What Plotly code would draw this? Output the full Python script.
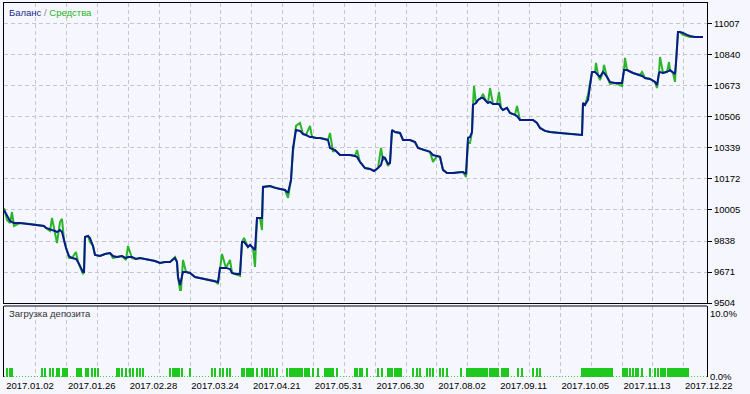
import plotly.graph_objects as go

# ---------------- data ----------------
deal = [0, 3, 6, 8, 10, 16, 26, 36, 40, 42, 46, 48, 51, 53, 56, 58, 60, 62, 65, 68,
        72, 74, 77, 79, 80, 81, 84, 86, 89, 91, 96, 101, 106, 109, 113, 118, 122, 124, 128, 132,
        136, 141, 146, 151, 156, 161, 166, 171, 173, 174, 176, 177, 179, 182, 186, 191, 196, 201, 206, 211,
        214, 216, 218, 222, 226, 228, 232, 236, 238, 240, 244, 246, 249, 251, 253, 256, 258, 259, 266, 271,
        276, 281, 284, 287, 289, 292, 296, 299, 302, 306, 308, 312, 316, 321, 324, 326, 329, 331, 336, 341,
        346, 351, 353, 356, 361, 366, 370, 374, 377, 379, 381, 384, 386, 388, 391, 396, 399, 406, 411, 414,
        421, 426, 429, 433, 436, 439, 443, 449, 456, 459, 462, 464, 466, 468, 469, 470, 472, 474, 477, 479,
        482, 484, 486, 489, 493, 495, 497, 499, 503, 506, 511, 513, 516, 523, 529, 533, 536, 541, 546, 556,
        566, 576, 578, 579, 581, 584, 586, 588, 591, 592, 594, 596, 599, 600, 603, 606, 611, 618, 620, 621,
        623, 629, 636, 638, 641, 646, 651, 653, 655, 656, 659, 663, 665, 666, 669, 671, 672, 673, 674, 676,
        679, 683, 686, 691, 696, 699]
balance = [10005, 9973, 9946, 9940, 9935, 9935, 9930, 9924, 9919, 9908, 9903, 9897, 9892, 9886, 9897, 9886, 9843, 9800, 9757, 9746,
           9741, 9725, 9693, 9671, 9671, 9860, 9865, 9854, 9811, 9763, 9757, 9768, 9773, 9757, 9752, 9757, 9746, 9752, 9752, 9741,
           9746, 9741, 9736, 9730, 9720, 9725, 9725, 9746, 9725, 9644, 9601, 9628, 9671, 9671, 9666, 9644, 9639, 9633, 9628, 9623,
           9617, 9693, 9693, 9693, 9687, 9666, 9660, 9660, 9833, 9833, 9806, 9817, 9800, 9790, 9962, 9962, 9962, 10129, 10134, 10124,
           10118, 10113, 10097, 10167, 10339, 10436, 10431, 10414, 10409, 10398, 10398, 10393, 10393, 10388, 10382, 10339, 10334, 10328, 10301, 10301,
           10301, 10296, 10291, 10264, 10231, 10226, 10215, 10231, 10247, 10291, 10285, 10253, 10258, 10436, 10425, 10420, 10382, 10382, 10371, 10339,
           10328, 10318, 10301, 10296, 10291, 10221, 10204, 10204, 10210, 10210, 10199, 10393, 10398, 10425, 10571, 10576, 10581, 10598, 10608, 10608,
           10592, 10581, 10587, 10576, 10576, 10576, 10555, 10544, 10555, 10528, 10517, 10511, 10490, 10490, 10490, 10474, 10447, 10431, 10425, 10420,
           10414, 10409, 10409, 10581, 10571, 10598, 10678, 10748, 10748, 10743, 10732, 10722, 10748, 10743, 10722, 10695, 10689, 10689, 10759, 10759,
           10759, 10743, 10732, 10727, 10716, 10711, 10695, 10678, 10743, 10748, 10743, 10748, 10754, 10759, 10743, 10738, 10797, 10867, 10964, 10964,
           10959, 10948, 10942, 10937, 10937, 10937]
equity = [10016, 9951, 9935, 9994, 9919, 9935, 9930, 9924, 9919, 9908, 9892, 9962, 9881, 9827, 9940, 9957, 9843, 9800, 9746, 9746,
          9779, 9725, 9682, 9660, 9671, 9860, 9865, 9833, 9811, 9763, 9757, 9768, 9773, 9746, 9752, 9757, 9736, 9811, 9746, 9741,
          9746, 9741, 9736, 9730, 9720, 9725, 9725, 9752, 9725, 9644, 9574, 9574, 9736, 9671, 9666, 9644, 9639, 9633, 9628, 9623,
          9606, 9693, 9768, 9693, 9736, 9666, 9660, 9650, 9833, 9854, 9806, 9817, 9800, 9698, 9962, 9962, 9897, 10129, 10134, 10124,
          10118, 10113, 10070, 10167, 10318, 10458, 10474, 10414, 10409, 10458, 10398, 10393, 10393, 10388, 10382, 10420, 10318, 10328, 10301, 10301,
          10301, 10296, 10328, 10264, 10231, 10226, 10215, 10231, 10339, 10274, 10285, 10242, 10258, 10436, 10425, 10420, 10382, 10382, 10371, 10339,
          10328, 10318, 10264, 10296, 10291, 10221, 10204, 10204, 10210, 10210, 10183, 10366, 10366, 10425, 10571, 10673, 10581, 10598, 10608, 10630,
          10592, 10581, 10662, 10576, 10576, 10641, 10555, 10544, 10555, 10528, 10517, 10565, 10490, 10490, 10490, 10474, 10447, 10431, 10425, 10420,
          10414, 10409, 10409, 10581, 10571, 10625, 10678, 10748, 10748, 10797, 10732, 10705, 10748, 10786, 10722, 10684, 10689, 10673, 10759, 10824,
          10759, 10743, 10732, 10748, 10716, 10711, 10695, 10662, 10743, 10829, 10743, 10748, 10802, 10759, 10743, 10695, 10797, 10867, 10964, 10964,
          10948, 10942, 10937, 10937, 10937, 10937]

load_deal = [3, 6, 8, 38, 41, 46, 49, 53, 55, 59, 61, 63, 73, 75, 77, 82, 84, 88, 91, 94,
             113, 115, 118, 122, 126, 129, 133, 136, 139, 166, 169, 171, 173, 175, 178, 186, 208, 211, 216, 219,
             223, 226, 238, 240, 243, 245, 247, 249, 253, 258, 261, 263, 266, 269, 273, 283, 286, 288, 290, 292,
             294, 296, 298, 301, 303, 305, 309, 314, 321, 323, 325, 327, 329, 333, 351, 353, 356, 358, 363, 374,
             378, 384, 386, 388, 391, 393, 395, 397, 409, 413, 416, 423, 426, 429, 436, 439, 443, 457, 463, 465,
             467, 469, 471, 473, 475, 477, 479, 481, 483, 486, 488, 490, 492, 494, 498, 500, 502, 504, 514, 518,
             529, 533, 536, 578, 580, 582, 584, 586, 588, 590, 592, 594, 596, 598, 600, 602, 604, 606, 608, 619,
             621, 623, 626, 629, 632, 634, 638, 646, 651, 654, 657, 659, 661, 664, 666, 668, 670, 672, 674, 676,
             678, 680, 682, 684]
load_pct = [1.4, 1.4, 1.4, 1.4, 1.4, 1.4, 1.4, 1.4, 1.4, 1.4, 1.4, 1.4, 1.4, 1.4, 1.4, 1.4, 1.4, 1.4, 1.4, 1.4,
            1.4, 1.4, 1.4, 1.4, 1.4, 1.4, 1.4, 1.4, 1.4, 1.4, 1.4, 1.4, 1.4, 1.4, 1.4, 1.4, 1.4, 1.4, 1.4, 1.4,
            1.4, 1.4, 1.4, 1.4, 1.4, 1.4, 1.4, 1.4, 1.4, 1.4, 1.4, 1.4, 1.4, 1.4, 1.4, 1.4, 1.4, 1.4, 1.4, 1.4,
            1.4, 1.4, 1.4, 1.4, 1.4, 1.4, 1.4, 1.4, 1.4, 1.4, 1.4, 1.4, 1.4, 1.4, 1.4, 1.4, 1.4, 1.4, 1.4, 1.4,
            1.4, 1.4, 1.4, 1.4, 1.4, 1.4, 1.4, 1.4, 1.4, 1.4, 1.4, 1.4, 1.4, 1.4, 1.4, 1.4, 1.4, 1.4, 1.4, 1.4,
            1.4, 1.4, 1.4, 1.4, 1.4, 1.4, 1.4, 1.4, 1.4, 1.4, 1.4, 1.4, 1.4, 1.4, 1.4, 1.4, 1.4, 1.4, 1.4, 1.4,
            1.4, 1.4, 1.4, 1.4, 1.4, 1.4, 1.4, 1.4, 1.4, 1.4, 1.4, 1.4, 1.4, 1.4, 1.4, 1.4, 1.4, 1.4, 1.4, 1.4,
            1.4, 1.4, 1.4, 1.4, 1.4, 1.4, 1.4, 1.4, 1.4, 1.4, 1.4, 1.4, 1.4, 1.4, 1.4, 1.4, 1.4, 1.4, 1.4, 1.4,
            1.4, 1.4, 1.4, 1.4]

y_ticks = [9504, 9671, 9838, 10005, 10172, 10339, 10506, 10673, 10840, 11007]
x_grid = [1, 31.85, 62.7, 93.55, 124.4, 155.25, 186.1, 216.95, 247.8, 278.65, 309.5, 340.35,
          371.2, 402.05, 432.9, 463.75, 494.6, 525.45, 556.3, 587.15, 618, 648.85, 679.7]
x_labels = ["2017.01.02", "", "2017.01.26", "", "2017.02.28", "", "2017.03.24", "", "2017.04.21", "",
            "2017.05.31", "", "2017.06.30", "", "2017.08.02", "", "2017.09.11", "", "2017.10.05", "",
            "2017.11.13", "", "2017.12.22"]

# ---------------- styles ----------------
BG = "#F6F6FE"
GRID = "#C6C6CE"
BLUE = "#0A1A8C"
GREEN = "#2AB52A"
BARGREEN = "#1EC81E"
FONT = "Liberation Sans"

fig = go.Figure()
fig.add_trace(go.Scatter(x=deal, y=equity, mode="lines", line=dict(color=GREEN, width=2),
                         xaxis="x", yaxis="y", showlegend=False, hoverinfo="skip"))
fig.add_trace(go.Scatter(x=deal, y=balance, mode="lines", line=dict(color=BLUE, width=2),
                         xaxis="x", yaxis="y", showlegend=False, hoverinfo="skip"))
fig.add_trace(go.Bar(x=load_deal, y=load_pct, width=1.8, marker=dict(color=BARGREEN, line=dict(width=0)),
                     xaxis="x2", yaxis="y2", showlegend=False, hoverinfo="skip"))

main_bottom = (377 - 303) / 374
low_top = (377 - 306) / 374

common_x = dict(range=[0, 703], tickmode="array", tickvals=x_grid, showgrid=True,
                gridcolor=GRID, griddash="4px,3px", gridwidth=1, zeroline=False, automargin=False)

fig.update_layout(
    width=750, height=394,
    margin=dict(l=4, r=43, t=3, b=17),
    paper_bgcolor=BG, plot_bgcolor=BG,
    font=dict(family=FONT, size=9, color="#000000"),
    bargap=0,
    xaxis=dict(**common_x, anchor="y", domain=[0, 1], showticklabels=False, ticks="",
               showline=True, linecolor="#000000", linewidth=1, mirror=True),
    yaxis=dict(domain=[main_bottom, 1], range=[9504, 11120], side="right", anchor="x",
               tickmode="array", tickvals=y_ticks, ticktext=[str(v) for v in y_ticks],
               ticks="outside", ticklen=4, tickcolor="#000000", tickwidth=1,
               showgrid=True, gridcolor=GRID, griddash="4px,3px", gridwidth=1, zeroline=False,
               showline=True, linecolor="#000000", linewidth=1, mirror=True, automargin=False,
               tickfont=dict(family=FONT, size=9.5, color="#000000")),
    xaxis2=dict(**common_x, anchor="y2", domain=[0, 1], ticktext=x_labels, showticklabels=True,
                ticks="", showline=False, ticklabelshift=25, ticklabelstandoff=1,
                tickfont=dict(family=FONT, size=9.5, color="#000000")),
    yaxis2=dict(domain=[0, low_top], range=[0, 11.2], side="right", anchor="x2",
                tickmode="array", tickvals=[0, 10], ticktext=["0.0%", "10.0%"], ticks="",
                showgrid=False, zeroline=False, showline=True, linecolor="#000000", linewidth=1,
                mirror=True, automargin=False,
                tickfont=dict(family=FONT, size=9.5, color="#000000")),
    shapes=[
        dict(type="line", xref="paper", yref="y2 domain", x0=0, x1=1, y0=1, y1=1,
             line=dict(color="#000000", width=1)),
        dict(type="line", xref="x2", yref="y2", x0=0, x1=703, y0=0.05, y1=0.05,
             line=dict(color=BARGREEN, width=1, dash="1px,2px")),
    ],
    annotations=[
        dict(xref="x domain", yref="y domain", x=0.0043, y=0.97, xanchor="left", yanchor="middle",
             showarrow=False,
             text="<span style='color:#1A2A8C'>Баланс</span><span style='color:#808080'> / </span>"
                  "<span style='color:#1EB41E'>Средства</span>",
             font=dict(family=FONT, size=9.5)),
        dict(xref="x2 domain", yref="y2 domain", x=0.0043, y=0.9, xanchor="left", yanchor="middle",
             showarrow=False, text="Загрузка депозита",
             font=dict(family=FONT, size=9.5, color="#333333")),
    ],
)

fig.write_html("out.html")
